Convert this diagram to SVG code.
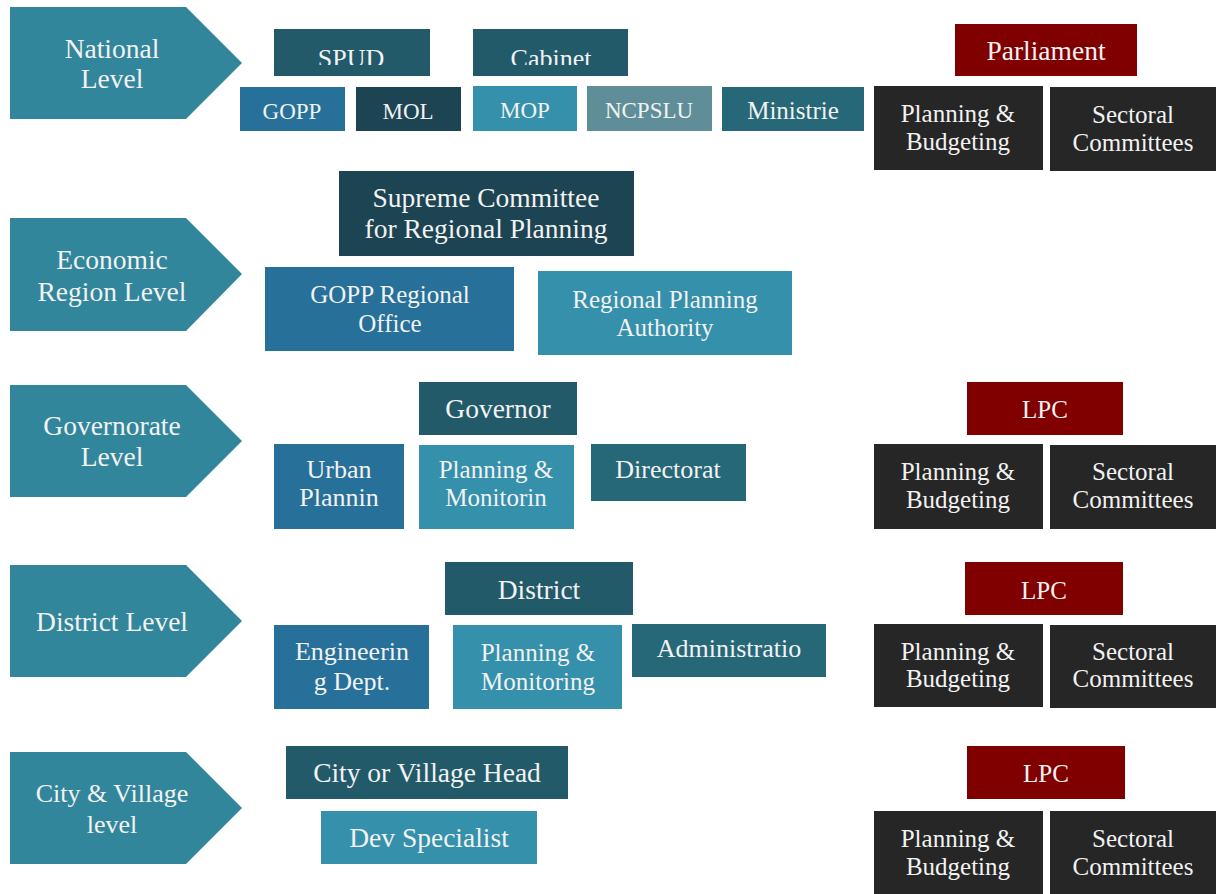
<svg xmlns="http://www.w3.org/2000/svg" width="1216" height="894" viewBox="0 0 1216 894">
<style>
text{font-family:"Liberation Serif","Times New Roman",serif;fill:#f2f2f2;text-anchor:middle;font-size:25px}
.sm{font-size:23px}
.md{font-size:25px}
.mt{font-size:26px}
.lg{font-size:27.5px}
.lvl{fill:#32869b}
.c1{fill:#1c4452}
.c2{fill:#225a6a}
.c3{fill:#27709a}
.c4{fill:#3590ab}
.c5{fill:#5f8e99}
.c6{fill:#266878}
.red{fill:#800000}
.blk{fill:#262626}
</style>
<defs>
<clipPath id="clipTop"><rect x="0" y="0" width="1216" height="65"/></clipPath>
</defs>
<rect width="1216" height="894" fill="#ffffff"/>

<g id="national-level"><polygon class="lvl" points="10,7 186,7 242,63 186,119 10,119"/><text class="lg" x="112" y="58">National</text><text class="lg" x="112" y="88">Level</text></g>
<g id="economic-level"><polygon class="lvl" points="10,218 186,218 242,274 186,331 10,331"/><text class="lg" x="112" y="269">Economic</text><text class="lg" x="112" y="301">Region Level</text></g>
<g id="governorate-level"><polygon class="lvl" points="10,385 186,385 242,441 186,497 10,497"/><text class="lg" x="112" y="435">Governorate</text><text class="lg" x="112" y="466">Level</text></g>
<g id="district-level"><polygon class="lvl" points="10,565 186,565 242,621 186,677 10,677"/><text class="lg" x="112" y="631">District Level</text></g>
<g id="city-level"><polygon class="lvl" points="10,752 186,752 242,808 186,864 10,864"/><text class="mt" x="112" y="802">City &amp; Village</text><text class="mt" x="112" y="833">level</text></g>

<g id="spud"><rect class="c2" x="274" y="29" width="156" height="47"/><text class="mt" x="351" y="67" clip-path="url(#clipTop)">SPUD</text></g>
<g id="cabinet"><rect class="c2" x="473" y="29" width="155" height="47"/><text class="mt" x="551" y="67" clip-path="url(#clipTop)">Cabinet</text></g>
<g id="gopp"><rect class="c3" x="240" y="87" width="105" height="44"/><text class="sm" x="292" y="119">GOPP</text></g>
<g id="mol"><rect class="c1" x="356" y="87" width="105" height="44"/><text class="sm" x="408" y="119">MOL</text></g>
<g id="mop"><rect class="c4" x="473" y="86" width="104" height="45"/><text class="sm" x="525" y="118">MOP</text></g>
<g id="ncpslu"><rect class="c5" x="587" y="86" width="125" height="45"/><text class="sm" x="649" y="118">NCPSLU</text></g>
<g id="ministrie"><rect class="c6" x="722" y="87" width="142" height="44"/><text x="793" y="119">Ministrie</text></g>
<g id="parliament"><rect class="red" x="955" y="24" width="182" height="52"/><text class="lg" x="1046" y="60">Parliament</text></g>
<g id="nat-planning"><rect class="blk" x="874" y="86" width="169" height="84"/><text x="958" y="122">Planning &amp;</text><text x="958" y="150">Budgeting</text></g>
<g id="nat-sectoral"><rect class="blk" x="1050" y="87" width="166" height="84"/><text x="1133" y="123">Sectoral</text><text x="1133" y="151">Committees</text></g>

<g id="supreme"><rect class="c1" x="339" y="171" width="295" height="85"/><text class="lg" x="486" y="207">Supreme Committee</text><text class="lg" x="486" y="238">for Regional Planning</text></g>
<g id="gopp-regional"><rect class="c3" x="265" y="267" width="249" height="84"/><text x="390" y="303">GOPP Regional</text><text x="390" y="332">Office</text></g>
<g id="rpa"><rect class="c4" x="538" y="271" width="254" height="84"/><text x="665" y="308">Regional Planning</text><text x="665" y="336">Authority</text></g>

<g id="governor"><rect class="c2" x="419" y="382" width="158" height="53"/><text class="lg" x="498" y="418">Governor</text></g>
<g id="urban"><rect class="c3" x="274" y="444" width="130" height="85"/><text class="mt" x="339" y="478">Urban</text><text class="mt" x="339" y="506">Plannin</text></g>
<g id="gov-pm"><rect class="c4" x="419" y="445" width="155" height="84"/><text x="496" y="478">Planning &amp;</text><text x="496" y="506">Monitorin</text></g>
<g id="directorat"><rect class="c6" x="591" y="444" width="155" height="57"/><text class="mt" x="668" y="478">Directorat</text></g>
<g id="gov-lpc"><rect class="red" x="967" y="382" width="156" height="53"/><text x="1045" y="418">LPC</text></g>
<g id="gov-planning"><rect class="blk" x="874" y="444" width="169" height="85"/><text x="958" y="480">Planning &amp;</text><text x="958" y="508">Budgeting</text></g>
<g id="gov-sectoral"><rect class="blk" x="1050" y="445" width="166" height="84"/><text x="1133" y="480">Sectoral</text><text x="1133" y="508">Committees</text></g>

<g id="district"><rect class="c2" x="445" y="562" width="188" height="53"/><text class="lg" x="539" y="599">District</text></g>
<g id="engineering"><rect class="c3" x="274" y="625" width="155" height="84"/><text class="mt" x="352" y="660">Engineerin</text><text class="mt" x="352" y="690">g Dept.</text></g>
<g id="dist-pm"><rect class="c4" x="453" y="625" width="169" height="84"/><text x="538" y="661">Planning &amp;</text><text x="538" y="690">Monitoring</text></g>
<g id="administratio"><rect class="c6" x="632" y="624" width="194" height="53"/><text class="mt" x="729" y="657">Administratio</text></g>
<g id="dist-lpc"><rect class="red" x="965" y="562" width="158" height="53"/><text x="1044" y="599">LPC</text></g>
<g id="dist-planning"><rect class="blk" x="874" y="624" width="169" height="83"/><text x="958" y="660">Planning &amp;</text><text x="958" y="687">Budgeting</text></g>
<g id="dist-sectoral"><rect class="blk" x="1050" y="625" width="166" height="83"/><text x="1133" y="660">Sectoral</text><text x="1133" y="687">Committees</text></g>

<g id="city-head"><rect class="c2" x="286" y="746" width="282" height="53"/><text class="lg" x="427" y="782">City or Village Head</text></g>
<g id="dev-specialist"><rect class="c4" x="321" y="811" width="216" height="53"/><text class="lg" x="429" y="847">Dev Specialist</text></g>
<g id="city-lpc"><rect class="red" x="967" y="746" width="158" height="53"/><text x="1046" y="782">LPC</text></g>
<g id="city-planning"><rect class="blk" x="874" y="811" width="169" height="83"/><text x="958" y="847">Planning &amp;</text><text x="958" y="875">Budgeting</text></g>
<g id="city-sectoral"><rect class="blk" x="1050" y="811" width="166" height="83"/><text x="1133" y="847">Sectoral</text><text x="1133" y="875">Committees</text></g>

<g id="connectors"></g>
</svg>
